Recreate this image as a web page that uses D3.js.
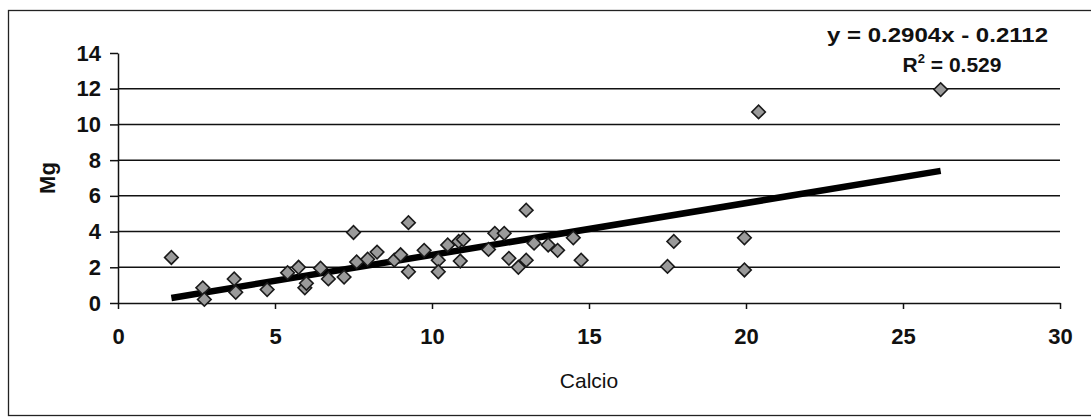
<!DOCTYPE html>
<html>
<head>
<meta charset="utf-8">
<script src="https://cdn.jsdelivr.net/npm/d3@7"></script>
<style>
body { margin: 0; background: #fff; }
</style>
</head>
<body>
<div id="plot"></div>
<script>
// scatter data, Calcio (x) vs Mg (y)
const calcio = [1.7, 2.7, 2.75, 3.7, 3.75, 4.75, 5.4, 5.75, 5.95, 6.0,
                6.45, 6.7, 7.2, 7.5, 7.6, 7.95, 8.25, 8.8, 9.0, 9.25,
                9.25, 9.75, 10.2, 10.2, 10.5, 10.85, 10.9, 11.0, 11.8, 12.0,
                12.3, 12.45, 12.75, 13.0, 13.0, 13.25, 13.7, 14.0, 14.5, 14.75,
                17.5, 17.7, 19.95, 19.95, 20.4, 26.2];
const mg = [2.55, 0.85, 0.2, 1.35, 0.6, 0.75, 1.7, 2.0, 0.85, 1.1,
            1.95, 1.35, 1.45, 3.95, 2.3, 2.45, 2.85, 2.4, 2.7, 4.5,
            1.75, 2.95, 2.4, 1.75, 3.25, 3.45, 2.35, 3.55, 3.0, 3.9,
            3.9, 2.5, 2.0, 2.4, 5.2, 3.35, 3.25, 2.95, 3.65, 2.4,
            2.05, 3.45, 3.65, 1.85, 10.7, 11.95];

const x_ticks = [0, 5, 10, 15, 20, 25, 30];
const y_ticks = [0, 2, 4, 6, 8, 10, 12, 14];
const grid_values = [2, 4, 6, 8, 10, 12];

// trend line as printed on the chart
const trend_slope = 0.2904;
const trend_intercept = -0.2112;
const eq_text = "y = 0.2904x - 0.2112";
const r2_text = "0.529";

const x_title = "Calcio";
const y_title = "Mg";

const total_width = 1091;
const total_height = 417;
const margin = {left: 118, top: 53, right: 31, bottom: 114};
const width = total_width - margin.left - margin.right;
const height = total_height - margin.top - margin.bottom;
const font = "Arial, 'Liberation Sans', sans-serif";

const svg = d3.select("#plot")
  .append("svg")
  .attr("width", total_width)
  .attr("height", total_height);

// outer chart border
svg.append("rect")
  .attr("x", 8.5).attr("y", 10.5)
  .attr("width", total_width + 10).attr("height", 405)
  .attr("fill", "none").attr("stroke", "#222").attr("stroke-width", 1.3);

const g = svg.append("g")
  .attr("transform", "translate(" + margin.left + "," + margin.top + ")");

const x = d3.scaleLinear().domain([0, 30]).range([0, width]);
const y = d3.scaleLinear().domain([0, 14]).range([height, 0]);

// horizontal gridlines
g.append("g").selectAll("line").data(grid_values).enter().append("line")
  .attr("x1", 0).attr("x2", width)
  .attr("y1", function(d) { return y(d); })
  .attr("y2", function(d) { return y(d); })
  .attr("stroke", "#111").attr("stroke-width", 1.5);

const xAxis = d3.axisBottom(x).tickValues(x_ticks).tickSize(6).tickSizeOuter(0).tickPadding(19);
const gx = g.append("g").attr("transform", "translate(0," + height + ")").call(xAxis);

const yAxis = d3.axisLeft(y).tickValues(y_ticks).tickSize(8).tickSizeOuter(0).tickPadding(9);
const gy = g.append("g").call(yAxis);

[gx, gy].forEach(function(a) {
  a.attr("font-family", font).attr("font-size", 22).attr("font-weight", "bold");
  a.selectAll("path, line").attr("stroke", "#111").attr("stroke-width", 1.5);
  a.selectAll("text").attr("fill", "#111");
});

// trend line over the data range
const xr = d3.extent(calcio);
g.append("line")
  .attr("x1", x(xr[0])).attr("y1", y(trend_slope * xr[0] + trend_intercept))
  .attr("x2", x(xr[1])).attr("y2", y(trend_slope * xr[1] + trend_intercept))
  .attr("stroke", "#000").attr("stroke-width", 6.5);

// diamond markers
const pts = calcio.map(function(c, i) { return {x: c, y: mg[i]}; });
g.append("g").selectAll("rect").data(pts).enter().append("rect")
  .attr("x", -4.8).attr("y", -4.8)
  .attr("width", 9.6).attr("height", 9.6)
  .attr("transform", function(d) { return "translate(" + x(d.x) + "," + y(d.y) + ") rotate(45)"; })
  .attr("fill", "#9a9a9a").attr("stroke", "#1a1a1a").attr("stroke-width", 1.6);

// axis titles
svg.append("text")
  .attr("transform", "translate(55,178) rotate(-90)")
  .attr("text-anchor", "middle")
  .attr("font-family", font).attr("font-size", 22).attr("font-weight", "bold")
  .attr("fill", "#111")
  .text(y_title);

svg.append("text")
  .attr("x", 589).attr("y", 388)
  .attr("text-anchor", "middle")
  .attr("font-family", font).attr("font-size", 21)
  .attr("fill", "#111")
  .text(x_title);

// trend equation
svg.append("text")
  .attr("x", 827).attr("y", 42)
  .attr("textLength", 221).attr("lengthAdjust", "spacingAndGlyphs")
  .attr("font-family", font).attr("font-size", 21).attr("font-weight", "bold")
  .attr("fill", "#111")
  .text(eq_text);

const r2 = svg.append("text")
  .attr("x", 952).attr("y", 72)
  .attr("text-anchor", "middle")
  .attr("font-family", font).attr("font-size", 21).attr("font-weight", "bold")
  .attr("fill", "#111");
r2.append("tspan").text("R");
r2.append("tspan").attr("font-size", 13).attr("dy", -9).text("2");
r2.append("tspan").attr("dy", 9).text(" = " + r2_text);
</script>
</body>
</html>
